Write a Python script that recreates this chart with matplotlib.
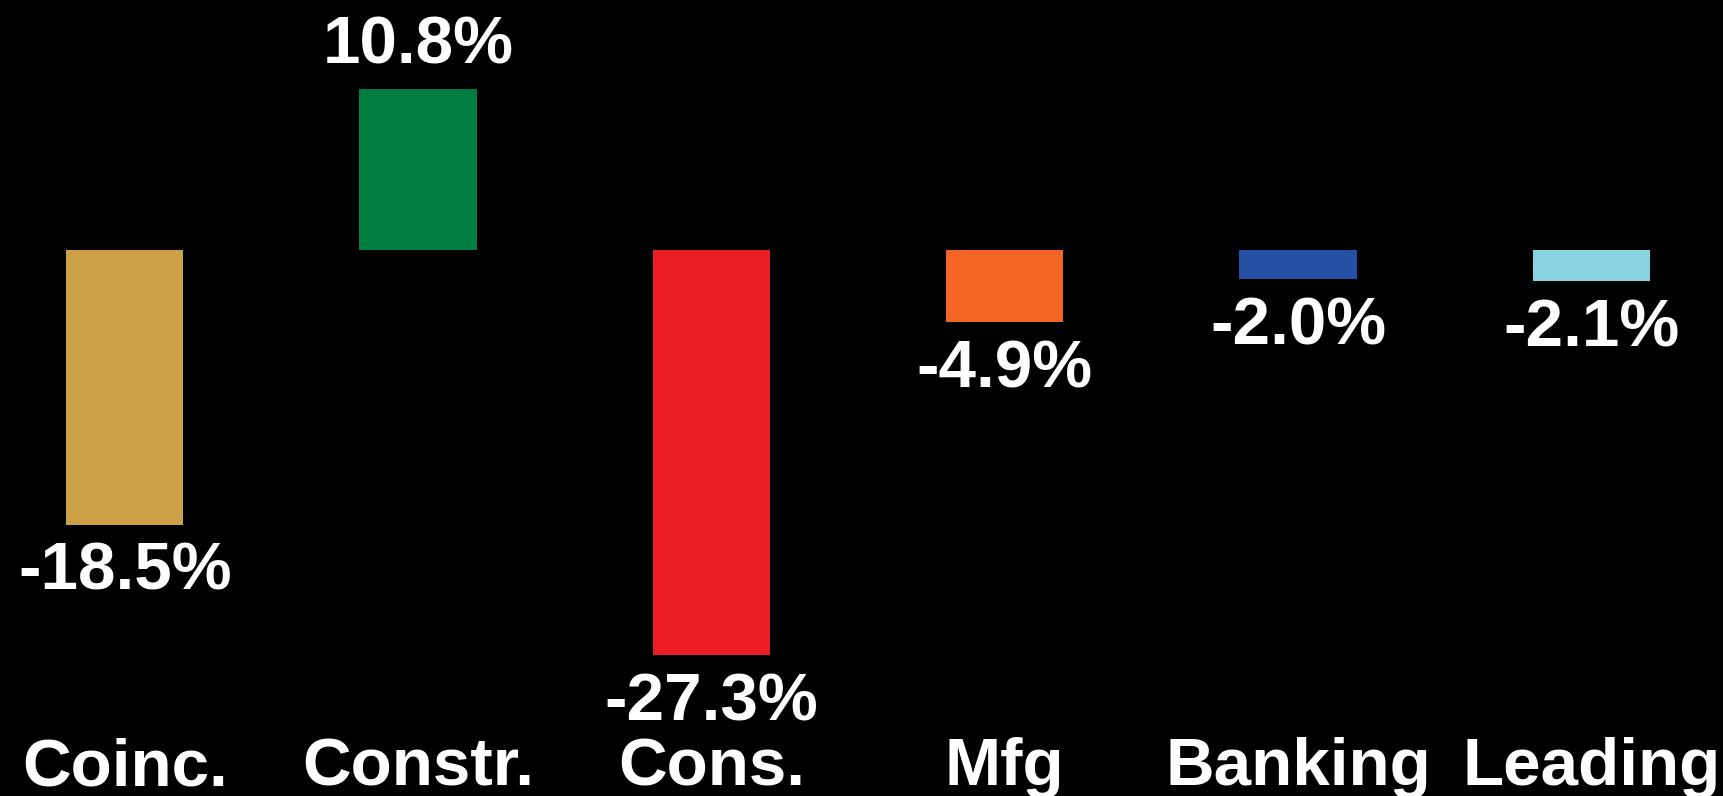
import matplotlib
matplotlib.use("Agg")
import matplotlib.pyplot as plt
import matplotlib.transforms as mtransforms

categories = ["Coinc.", "Constr.", "Cons.", "Mfg", "Banking", "Leading"]
values = [-18.5, 10.8, -27.3, -4.9, -2.0, -2.1]
value_labels = ["-18.5%", "10.8%", "-27.3%", "-4.9%", "-2.0%", "-2.1%"]
colors = ["#CBA046", "#007D40", "#EC1C24", "#F26522", "#2451A6", "#88D3E1"]

plt.rcParams['font.family'] = ['Liberation Sans', 'DejaVu Sans']

fig = plt.figure(figsize=(17.24, 7.96), dpi=100, facecolor="black")
ax = fig.add_axes([0, 0, 1, 1])
ax.set_facecolor("black")

x = list(range(len(categories)))
ax.bar(x, values, width=0.4, color=colors)

ax.set_xlim(-0.4255, 5.452)
ax.set_ylim(-36.77, 16.80)
ax.axis("off")

for xi, v, lab in zip(x, values, value_labels):
    off = 18.7 if v >= 0 else -47
    ax.annotate(lab, xy=(xi, v), xytext=(0, off), textcoords="offset points",
                ha="center", va="baseline", color="white", fontsize=48.5,
                fontweight="bold")

trans = mtransforms.blended_transform_factory(ax.transData, ax.transAxes)
for xi, cat in zip(x, categories):
    ax.text(xi, 1 - 785 / 796, cat, transform=trans, ha="center", va="baseline",
            color="white", fontsize=48.5, fontweight="bold")

fig.savefig("out.png", dpi=100, facecolor="black")
